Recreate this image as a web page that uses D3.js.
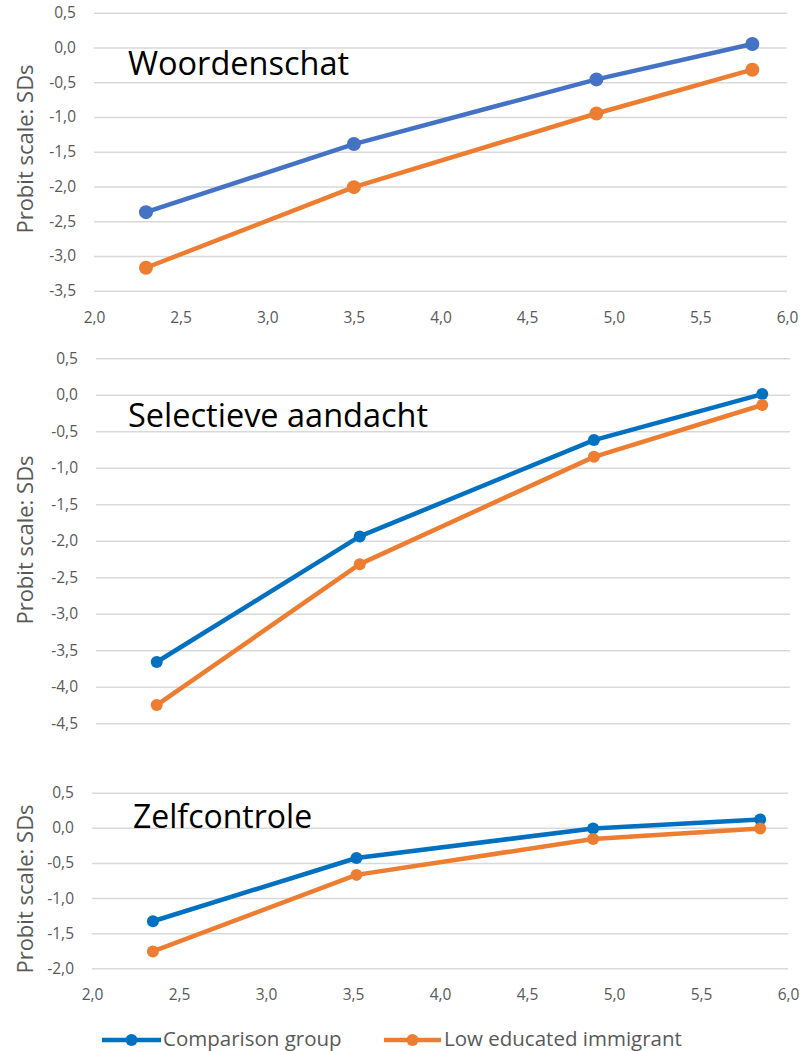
<!DOCTYPE html>
<html><head><meta charset="utf-8">
<script src="https://cdn.jsdelivr.net/npm/d3@7"></script>
<style>body{margin:0;background:#fff}svg{display:block}</style>
</head><body>
<svg id="c" width="802" height="1051"></svg>
<script>
const seriesNames = ["Comparison group", "Low educated immigrant"];
const panelTitles = ["Woordenschat", "Selectieve aandacht", "Zelfcontrole"];
const xTicks = [2.0, 2.5, 3.0, 3.5, 4.0, 4.5, 5.0, 5.5, 6.0];
const yTicksTop = [0.5, 0.0, -0.5, -1.0, -1.5, -2.0, -2.5, -3.0, -3.5];
const yTicksMid = [0.5, 0.0, -0.5, -1.0, -1.5, -2.0, -2.5, -3.0, -3.5, -4.0, -4.5];
const yTicksBot = [0.5, 0.0, -0.5, -1.0, -1.5, -2.0];

const xTop = [2.3, 3.5, 4.9, 5.8];
const compTop = [-2.37, -1.39, -0.46, 0.05];
const lowTop = [-3.17, -2.01, -0.95, -0.32];

const xMid = [2.35, 3.52, 4.87, 5.84];
const compMid = [-3.66, -1.94, -0.62, 0.01];
const lowMid = [-4.25, -2.32, -0.85, -0.14];

const xBot = [2.35, 3.52, 4.88, 5.84];
const compBot = [-1.33, -0.43, -0.01, 0.12];
const lowBot = [-1.76, -0.67, -0.16, -0.01];

const fmt = v => d3.format(".1f")(v).replace(".", ",").replace("−", "-");

const panels = [
  {title: panelTitles[0], x: xTop, series: [compTop, lowTop], yTicks: yTicksTop,
   left: 94, right: 787, top: 12.7, bottom: 290.7, xLabels: true, xLabelY: 318,
   colors: ["#4472C4", "#ED7D31"], r: 7, titleX: 128, titleY: 75, titleSize: 32.5, yTitleY: 149},
  {title: panelTitles[1], x: xMid, series: [compMid, lowMid], yTicks: yTicksMid,
   left: 96, right: 790, top: 358.3, bottom: 723.3, xLabels: false,
   colors: ["#0070C0", "#ED7D31"], r: 6, titleX: 128, titleY: 427, titleSize: 32.5, yTitleY: 540},
  {title: panelTitles[2], x: xBot, series: [compBot, lowBot], yTicks: yTicksBot,
   left: 92, right: 788, top: 792.7, bottom: 968.3, xLabels: true, xLabelY: 995,
   colors: ["#0070C0", "#ED7D31"], r: 6, titleX: 133, titleY: 828, titleSize: 32, yTitleY: 889}
];

const svg = d3.select("#c");
const font = "'Open Sans', 'Noto Sans', sans-serif";
const tickFont = 15.5;

panels.forEach(p => {
  const x = d3.scaleLinear().domain([2, 6]).range([p.left, p.right]);
  const yMin = d3.min(p.yTicks), yMax = d3.max(p.yTicks);
  const y = d3.scaleLinear().domain([yMin, yMax]).range([p.bottom, p.top]);
  const g = svg.append("g");

  const yAxis = d3.axisLeft(y).tickValues(p.yTicks).tickSize(-(p.right - p.left)).tickFormat(fmt).tickPadding(18);
  const ya = g.append("g").attr("transform", `translate(${p.left},0)`).call(yAxis);
  ya.select(".domain").remove();
  ya.selectAll(".tick line").attr("stroke", "#D9D9D9").attr("stroke-width", 1.5);
  ya.selectAll(".tick text").attr("fill", "#595959").style("font-family", font).style("font-size", tickFont + "px");

  if (p.xLabels) {
    const xAxis = d3.axisBottom(x).tickValues(xTicks).tickSize(0).tickFormat(fmt).tickPadding(0);
    const xa = g.append("g").attr("transform", `translate(0,${p.xLabelY - 0.36 * tickFont})`).call(xAxis);
    xa.select(".domain").remove();
    xa.selectAll(".tick text").attr("fill", "#595959").style("font-family", font).style("font-size", tickFont + "px");
  }

  g.append("text")
    .attr("transform", `translate(33,${p.yTitleY}) rotate(-90)`)
    .attr("text-anchor", "middle")
    .attr("fill", "#595959")
    .style("font-family", font).style("font-size", "22px")
    .text("Probit scale: SDs");

  g.append("text").attr("x", p.titleX).attr("y", p.titleY)
    .attr("fill", "#000").style("font-family", font).style("font-size", p.titleSize + "px")
    .text(p.title);

  const line = d3.line().x(d => x(d[0])).y(d => y(d[1]));
  p.series.forEach((vals, i) => {
    const pts = p.x.map((xv, j) => [xv, vals[j]]);
    g.append("path").datum(pts).attr("d", line).attr("fill", "none")
      .attr("stroke", p.colors[i]).attr("stroke-width", 4.5).attr("stroke-linejoin", "round");
    g.selectAll(null).data(pts).enter().append("circle")
      .attr("cx", d => x(d[0])).attr("cy", d => y(d[1])).attr("r", p.r).attr("fill", p.colors[i]);
  });
});

const legendItems = [
  {name: seriesNames[0], color: "#0070C0", x0: 102, x1: 161, tx: 163},
  {name: seriesNames[1], color: "#ED7D31", x0: 384, x1: 441, tx: 444}
];
const lg = svg.append("g");
const ly = 1040;
legendItems.forEach(it => {
  lg.append("line").attr("x1", it.x0).attr("x2", it.x1).attr("y1", ly).attr("y2", ly)
    .attr("stroke", it.color).attr("stroke-width", 4.5);
  lg.append("circle").attr("cx", (it.x0 + it.x1) / 2).attr("cy", ly).attr("r", 6).attr("fill", it.color);
  lg.append("text").attr("x", it.tx).attr("y", 1046)
    .attr("fill", "#595959").style("font-family", font).style("font-size", "20.5px")
    .text(it.name);
});
</script>
</body></html>
